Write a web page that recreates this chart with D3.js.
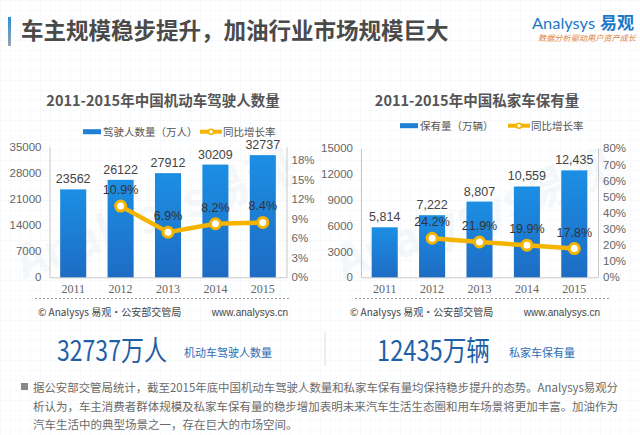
<!DOCTYPE html>
<html><head><meta charset="utf-8">
<script src="https://cdn.jsdelivr.net/npm/d3@7"></script>
<style>
html,body{margin:0;padding:0;background:#fff;}
svg{display:block;font-family:"Noto Sans CJK SC","Noto Sans",sans-serif;}
</style></head>
<body><svg id="c" width="640" height="435"></svg>
<script>
const years = ["2011","2012","2013","2014","2015"];
const drivers = [23562, 26122, 27912, 30209, 32737];
const driverGrowth = [null, 10.9, 6.9, 8.2, 8.4];
const cars = [5814, 7222, 8807, 10559, 12435];
const carGrowth = [null, 24.2, 21.9, 19.9, 17.8];
const leftTicksA = [0, 7000, 14000, 21000, 28000, 35000];
const rightTicksA = [0, 3, 6, 9, 12, 15, 18];
const leftTicksB = [0, 3000, 6000, 9000, 12000, 15000];
const rightTicksB = [0, 10, 20, 30, 40, 50, 60, 70, 80];

const svg = d3.select("#c");
const defs = svg.append("defs");
const pat = defs.append("pattern").attr("id","grid").attr("width",10).attr("height",10).attr("patternUnits","userSpaceOnUse");
pat.append("path").attr("d","M10 0 L0 0 0 10").attr("fill","none").attr("stroke","#f1f3f6").attr("stroke-width",1);
const grad = defs.append("linearGradient").attr("id","barg").attr("x1",0).attr("y1",0).attr("x2",0).attr("y2",1);
grad.append("stop").attr("offset","0%").attr("stop-color","#1b8fe4");
grad.append("stop").attr("offset","100%").attr("stop-color","#1e6cc3");
const ag = defs.append("linearGradient").attr("id","accent").attr("x1",0).attr("y1",0).attr("x2",0).attr("y2",1);
ag.append("stop").attr("offset","0%").attr("stop-color","#2a8fd8");
ag.append("stop").attr("offset","100%").attr("stop-color","#9aa3ad");

svg.append("rect").attr("width",640).attr("height",435).attr("fill","#fff");
svg.append("rect").attr("width",640).attr("height",435).attr("fill","url(#grid)");

// header
svg.append("rect").attr("x",8).attr("y",17).attr("width",3).attr("height",29).attr("fill","url(#accent)");
svg.append("text").attr("x",21).attr("y",39).attr("font-size",22.5).attr("font-weight","bold").attr("fill","#4a4a4a")
  .text("车主规模稳步提升，加油行业市场规模巨大");
svg.append("text").attr("x",532).attr("y",29).attr("font-size",15).attr("fill","#1b78c8").attr("font-family","Lato, sans-serif")
  .attr("textLength",63).attr("lengthAdjust","spacingAndGlyphs").text("Analysys");
svg.append("text").attr("x",600).attr("y",29).attr("font-size",17).attr("font-weight","bold").attr("fill","#1b78c8").text("易观");
svg.append("text").attr("x",538).attr("y",41).attr("font-size",8).attr("fill","#e0823a").attr("font-style","italic")
  .attr("textLength",98).attr("lengthAdjust","spacingAndGlyphs").text("数据分析驱动用户资产成长");

// watermark
[[160,230],[480,230]].forEach(p=>{
  svg.append("text").attr("transform",`translate(${p[0]},${p[1]}) rotate(-20)`).attr("text-anchor","middle")
    .attr("font-size",46).attr("font-weight","bold").attr("fill","#dfeaf3").attr("opacity",0.3).text("Analysys易观");
});

function chart(o){
  const g = svg.append("g");
  const x = d3.scaleBand().domain(years).range([o.x0,o.x1]).paddingInner(0.45).paddingOuter(0.225);
  const y = d3.scaleLinear().domain([0,o.maxL]).range([277.3,o.top]);
  const y2 = d3.scaleLinear().domain([0,o.maxR]).range([277.3,o.top]);
  g.append("text").attr("x",o.tx).attr("y",106).attr("text-anchor","middle").attr("font-size",14.5).attr("font-weight","bold").attr("fill","#555").text(o.title);
  g.append("rect").attr("x",o.lg[0]).attr("y",o.ly-2.5).attr("width",18).attr("height",5).attr("fill","#1e7fd6");
  g.append("text").attr("x",o.lg[0]+20).attr("y",o.ly+4).attr("font-size",10.5).attr("fill","#555").text(o.leg1);
  g.append("line").attr("x1",o.lg[1]).attr("x2",o.lg[1]+22).attr("y1",o.ly).attr("y2",o.ly).attr("stroke","#f4b400").attr("stroke-width",4);
  g.append("circle").attr("cx",o.lg[1]+11).attr("cy",o.ly).attr("r",2.5).attr("fill","#fff").attr("stroke","#f4b400").attr("stroke-width",1.5);
  g.append("text").attr("x",o.lg[1]+23).attr("y",o.ly+4).attr("font-size",10.5).attr("fill","#555").text("同比增长率");
  const ax = g.append("g").attr("transform",`translate(${o.x0},0)`).call(d3.axisLeft(y).tickValues(o.ticksL).tickSize(0).tickPadding(8).tickFormat(d3.format("d")));
  const ax2 = g.append("g").attr("transform",`translate(${o.x1},0)`).call(d3.axisRight(y2).tickValues(o.ticksR).tickSize(0).tickPadding(5).tickFormat(d=>d+"%"));
  const axb = g.append("g").attr("transform",`translate(0,277.3)`).call(d3.axisBottom(x).tickSize(0).tickPadding(7));
  [ax,ax2,axb].forEach(a=>{
    a.select(".domain").attr("stroke","#c8c8c8");
    a.selectAll("text").attr("font-size",11.5).attr("fill","#666").attr("font-family","Liberation Sans, sans-serif");
  });
  axb.selectAll("text").attr("font-family","Liberation Serif, serif").attr("font-size",12);
  g.selectAll(".bar").data(o.vals).join("rect").attr("x",(d,i)=>x(years[i])).attr("width",x.bandwidth())
    .attr("y",d=>y(d)).attr("height",d=>277.3-y(d)).attr("fill","url(#barg)");
  g.selectAll(".bl").data(o.vals).join("text").attr("x",(d,i)=>x(years[i])+x.bandwidth()/2).attr("y",d=>y(d)-6)
    .attr("text-anchor","middle").attr("font-size",12.5).attr("fill","#444").attr("font-family","Liberation Sans, sans-serif").text(o.fmt);
  const pts = o.growth.map((v,i)=>[x(years[i])+x.bandwidth()/2, v]).filter(p=>p[1]!==null);
  g.append("path").datum(pts).attr("d",d3.line().x(p=>p[0]).y(p=>y2(p[1]))).attr("fill","none").attr("stroke","#f4b400").attr("stroke-width",4.5);
  g.selectAll(".pt").data(pts).join("circle").attr("cx",p=>p[0]).attr("cy",p=>y2(p[1])).attr("r",5).attr("fill","#fff").attr("stroke","#f4b400").attr("stroke-width",3);
  g.selectAll(".pl").data(pts).join("text").attr("x",p=>p[0]).attr("y",p=>y2(p[1])-12).attr("text-anchor","middle")
    .attr("font-size",12.5).attr("fill","#333").attr("font-family","Liberation Sans, sans-serif").text(p=>p[1].toFixed(1)+"%");
  g.append("line").attr("x1",o.dl[0]).attr("x2",o.dl[1]).attr("y1",298.5).attr("y2",298.5).attr("stroke","#999").attr("stroke-dasharray","2,2");
  g.append("text").attr("x",o.src[0]).attr("y",315.5).attr("font-size",10).attr("fill","#444").text("© Analysys 易观·公安部交管局");
  g.append("text").attr("x",o.src[1]).attr("y",315.5).attr("text-anchor","end").attr("font-size",10).attr("fill","#444").attr("font-family","Liberation Sans, sans-serif").text("www.analysys.cn");
}

chart({x0:49.5,x1:286.5,top:146.7,maxL:35000,maxR:20,ticksL:leftTicksA,ticksR:rightTicksA,vals:drivers,growth:driverGrowth,
  fmt:d3.format("d"),title:"2011-2015年中国机动车驾驶人数量",tx:163,lg:[83,200],ly:131.7,leg1:"驾驶人数量（万人）",dl:[35,290],src:[38,288]});
chart({x0:361,x1:598,top:148.3,maxL:15000,maxR:80,ticksL:leftTicksB,ticksR:rightTicksB,vals:cars,growth:carGrowth,
  fmt:d3.format(","),title:"2011-2015年中国私家车保有量",tx:477,lg:[400,508],ly:125.7,leg1:"保有量（万辆）",dl:[355,610],src:[350,600]});

// big numbers
svg.append("text").attr("x",57).attr("y",361).attr("font-size",28).attr("fill","#1f5fa6").attr("font-family","Noto Sans CJK SC, sans-serif")
  .attr("textLength",110).attr("lengthAdjust","spacingAndGlyphs").text("32737万人");
svg.append("text").attr("x",184).attr("y",357).attr("font-size",11).attr("fill","#2f6db5").text("机动车驾驶人数量");
svg.append("line").attr("x1",325).attr("x2",325).attr("y1",332).attr("y2",366).attr("stroke","#ddd");
svg.append("text").attr("x",377).attr("y",361).attr("font-size",28).attr("fill","#1f5fa6").attr("font-family","Noto Sans CJK SC, sans-serif")
  .attr("textLength",113).attr("lengthAdjust","spacingAndGlyphs").text("12435万辆");
svg.append("text").attr("x",509).attr("y",357).attr("font-size",11).attr("fill","#2f6db5").text("私家车保有量");

// paragraph
svg.append("rect").attr("x",21).attr("y",383).attr("width",7).attr("height",7).attr("fill","#888");
const para = ["据公安部交管局统计，截至2015年底中国机动车驾驶人数量和私家车保有量均保持稳步提升的态势。Analysys易观分",
  "析认为，车主消费者群体规模及私家车保有量的稳步增加表明未来汽车生活生态圈和用车场景将更加丰富。加油作为",
  "汽车生活中的典型场景之一，存在巨大的市场空间。"];
para.forEach((t,i)=>{
  const el = svg.append("text").attr("x",33).attr("y",392+i*18.5).attr("font-size",11.5).attr("fill","#6a6a6a").text(t);
  if(i<2) el.attr("textLength",585).attr("lengthAdjust","spacingAndGlyphs");
});
</script></body></html>
